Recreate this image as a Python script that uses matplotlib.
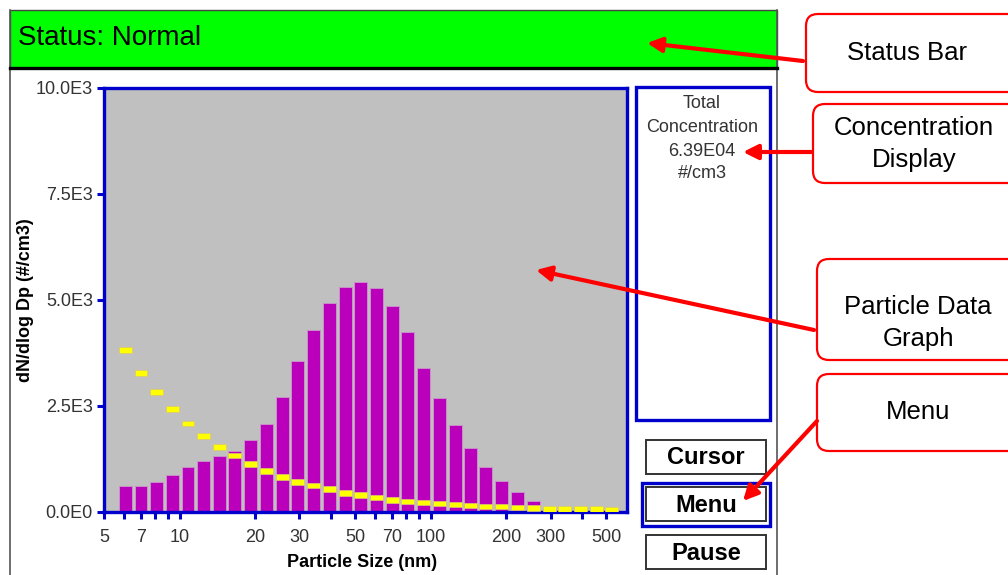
import numpy as np
import matplotlib
matplotlib.use("Agg")
import matplotlib.pyplot as plt
from matplotlib.patches import Rectangle, FancyBboxPatch

plt.rcParams['font.family'] = ['Liberation Sans', 'DejaVu Sans']

# channel midpoint diameters (nm), 16 channels per decade
sizes = [6.08, 7.02, 8.11, 9.36, 10.8, 12.5, 14.4, 16.6, 19.2, 22.2, 25.6,
         29.6, 34.2, 39.5, 45.6, 52.6, 60.8, 70.2, 81.1, 93.6, 108, 125,
         144, 166, 192, 222, 256, 296, 342, 395, 456, 527]
# dN/dlogDp bars
conc = [620, 620, 710, 870, 1050, 1210, 1320, 1440, 1690, 2080, 2710, 3560,
        4300, 4940, 5310, 5420, 5280, 4860, 4240, 3390, 2700, 2050, 1510,
        1070, 740, 460, 260, 0, 0, 0, 0, 0]
# yellow trace (one dash per channel)
trace = [3820, 3280, 2830, 2430, 2090, 1790, 1530, 1330, 1130, 970, 825,
         710, 620, 540, 450, 400, 340, 285, 255, 230, 205, 180, 157, 128,
         122, 98, 95, 72, 72, 72, 72, 55]

xticks = [5, 6, 7, 8, 9, 10, 20, 30, 40, 50, 60, 70, 80, 90, 100, 200, 300, 400, 500]
xlabels = ['5', '', '7', '', '', '10', '20', '30', '', '50', '', '70', '', '', '100',
           '200', '300', '', '500']
yticks = [0, 2500, 5000, 7500, 10000]
ylabels = ['0.0E0', '2.5E3', '5.0E3', '7.5E3', '10.0E3']

total_conc = '6.39E04'
buttons = ['Cursor', 'Menu', 'Pause']

W, H = 1008, 575
BLUE = '#0000CC'
fig = plt.figure(figsize=(W / 100, H / 100), dpi=100)
fig.patch.set_facecolor('white')

# background layer in pixel coordinates
bg = fig.add_axes([0, 0, 1, 1], zorder=0)
bg.set_xlim(0, W)
bg.set_ylim(H, 0)
bg.axis('off')

bg.plot([10, 10], [10, 575], color='#555555', lw=1.2)
bg.plot([777, 777], [10, 575], color='#555555', lw=1.2)
bg.add_patch(Rectangle((10, 10), 767, 58, facecolor='#00FF00', edgecolor='#444444', lw=1))
bg.plot([10, 777], [68, 68], color='black', lw=2.4)
bg.text(18, 38, 'Status: Normal', fontsize=20, va='center', ha='left', color='black')

# concentration panel
bg.add_patch(Rectangle((636, 87), 134, 333, facecolor='white', edgecolor=BLUE, lw=2.4))
for txt, yy in zip(['Total', 'Concentration', total_conc, '#/cm3'], [104, 128, 151, 174]):
    bg.text(702, yy, txt, fontsize=13, ha='center', va='center', color='#333333')

# buttons
bg.add_patch(Rectangle((642, 483), 128, 43, facecolor='none', edgecolor=BLUE, lw=2.4))
for name, yy in zip(buttons, [440, 487, 535]):
    bg.add_patch(Rectangle((646, yy), 120, 34, facecolor='white', edgecolor='#333333', lw=1.4))
    bg.text(706, yy + 18, name, fontsize=17, fontweight='bold', ha='center', va='center')

# callout boxes
callouts = [((806, 14, 78), ['Status Bar'], [53]),
            ((813, 104, 79), ['Concentration', 'Display'], [128, 160]),
            ((817, 259, 101), ['Particle Data', 'Graph'], [307, 339]),
            ((817, 374, 77), ['Menu'], [412])]
for (x0, y0, hh), lines, ys in callouts:
    bg.add_patch(FancyBboxPatch((x0, y0), 230, hh, boxstyle='round,pad=0,rounding_size=12',
                                facecolor='white', edgecolor='#FF0000', lw=1.6))
    for txt, yy in zip(lines, ys):
        bg.text(x0 + 101, yy, txt, fontsize=18.5, ha='center', va='center', color='black')

# particle data graph
ax = fig.add_axes([104 / W, (H - 512) / H, 523 / W, 424 / H], zorder=1)
ax.set_facecolor('#C0C0C0')
ax.set_xscale('log')
sizes_a = np.array(sizes)
half = 10 ** (0.0258)
left = sizes_a / half
width = sizes_a * half - left
ax.bar(left, conc, width=width, align='edge', color='#BB00BB', edgecolor='#C890C8', lw=0.7, zorder=2)
dh = 125
ax.bar(left, [dh] * len(trace), bottom=np.array(trace) - dh / 2, width=width, align='edge',
       color='#FFFF00', edgecolor='#D8C870', lw=0.5, zorder=3)
ax.set_xlim(5, 605)
ax.set_ylim(0, 10000)
ax.set_xticks(xticks)
ax.set_xticklabels(xlabels)
ax.minorticks_off()
ax.set_yticks(yticks)
ax.set_yticklabels(ylabels)
for s in ax.spines.values():
    s.set_color(BLUE)
    s.set_linewidth(2.4)
ax.tick_params(axis='both', colors=BLUE, width=2.2, length=5, labelcolor='#333333', labelsize=13)
ax.tick_params(axis='x', pad=7)
ax.tick_params(axis='y', pad=3)
ax.set_xlabel('Particle Size (nm)', fontsize=13, fontweight='bold')
ax.set_ylabel('dN/dlog Dp (#/cm3)', fontsize=13, fontweight='bold')
ax.xaxis.set_label_coords((362 - 104) / 523, -0.1)
ax.yaxis.set_label_coords(-0.134, 0.5)

# arrows layer
top = fig.add_axes([0, 0, 1, 1], zorder=3)
top.set_xlim(0, W)
top.set_ylim(H, 0)
top.axis('off')
top.patch.set_alpha(0)
arrows = [((803, 61), (647, 43)), ((811, 152), (743, 152)),
          ((814, 330), (536, 270)), ((817, 421), (743, 501))]
for start, tip in arrows:
    top.annotate('', xy=tip, xytext=start,
                 arrowprops=dict(arrowstyle='-|>', color='#FF0000', lw=3, mutation_scale=22,
                                 shrinkA=0, shrinkB=0))

fig.savefig('out.png', dpi=100)
